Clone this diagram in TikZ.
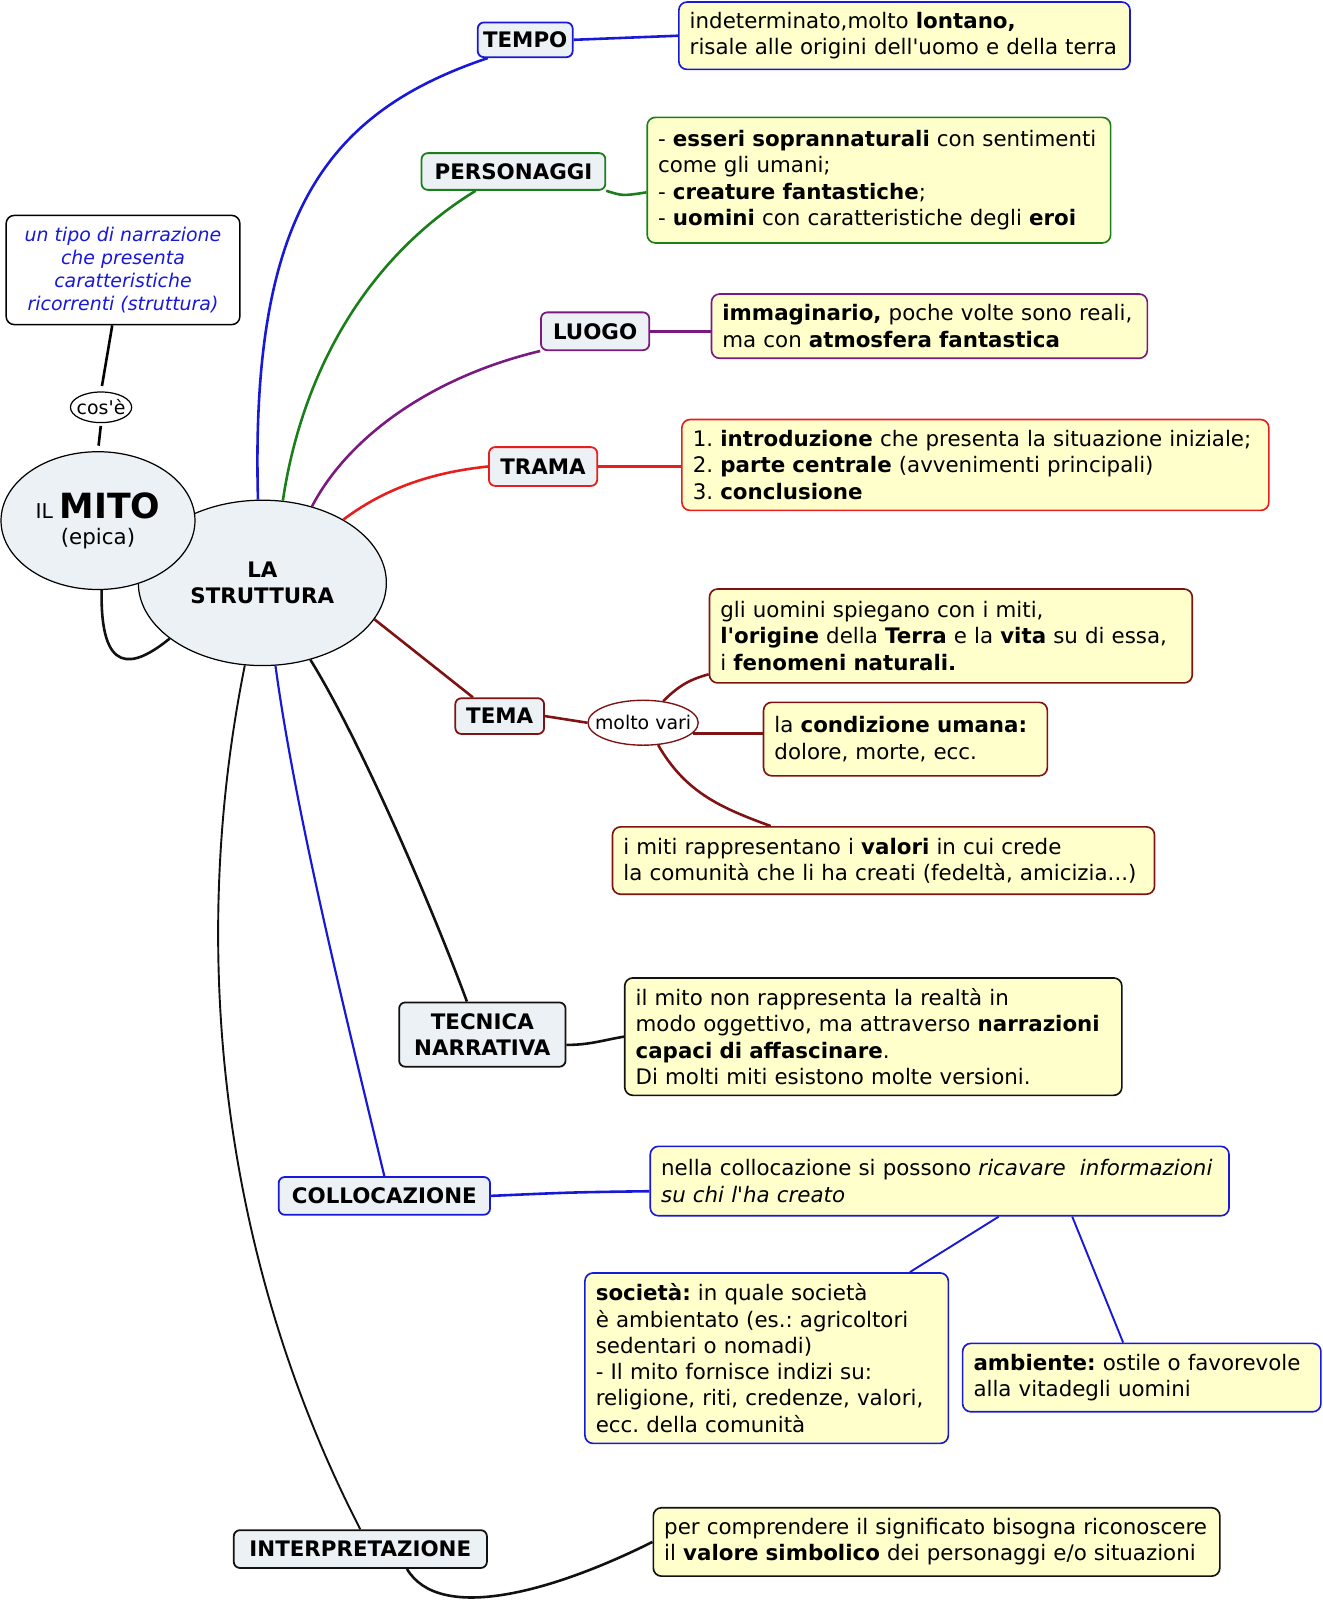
\documentclass[tikz,border=0pt]{standalone}
\usepackage{fontspec}
\setmainfont{DejaVu Sans}[Ligatures=TeXOff]
\usetikzlibrary{shapes.geometric}
\definecolor{celeste}{HTML}{EBF1F4}
\definecolor{giallo}{HTML}{FFFFCC}
\definecolor{blu}{HTML}{1818D8}
\definecolor{verde}{HTML}{1A7F1A}
\definecolor{viola}{HTML}{7A1A80}
\definecolor{rosso}{HTML}{E61E1E}
\definecolor{bordeaux}{HTML}{7F1212}
\definecolor{nero}{HTML}{111111}
\newcommand{\tn}{\fontsize{15.7}{19.3}\selectfont}
\newcommand{\pc}{\fontsize{13.9}{16.9}\selectfont}
\frenchspacing

\begin{document}
\begin{tikzpicture}[x=0.75pt,y=-0.75pt,
  ramo/.style={draw=#1,fill=celeste,rounded corners=4.5pt,line width=1.3pt,
    font=\tn\bfseries,align=center,inner sep=0pt},
  nota/.style={draw=#1,fill=giallo,rounded corners=6pt,line width=1.2pt,
    font=\tn,align=left,inner xsep=8pt,inner ysep=0pt},
  bolla/.style={ellipse,draw,fill=celeste,line width=0.9pt,inner sep=0pt,
    align=center,font=\tn},
  filo/.style={draw=#1,line width=1.9pt}]
\useasboundingbox (0,0) rectangle (1296,1567.4);

% centro
\node[bolla,minimum width=182.25pt,minimum height=121.5pt,font=\tn\bfseries]
  (strut) at (257,571) {LA\\STRUTTURA};
\node[bolla,minimum width=142.5pt,minimum height=101.25pt]
  (mito) at (96,510) {{\fontsize{15}{15}\selectfont IL}
  {\fontsize{25.5}{27}\selectfont\bfseries MITO}\\(epica)};
\node[ellipse,draw,fill=white,line width=0.9pt,inner xsep=-3pt,inner ysep=0pt,
  minimum width=45pt,minimum height=22.5pt,font=\pc]
  (cose) at (99,399) {cos'è};
\node[draw,fill=white,rounded corners=6pt,line width=1.1pt,align=center,
  text=blu,font=\pc\itshape,minimum width=171.75pt,minimum height=80.25pt]
  (tipo) at (120.5,264.5) {un tipo di narrazione\\che presenta\\caratteristiche\\ricorrenti (struttura)};

% rami
\node[ramo=blu,     minimum width=69.75pt, minimum height=25.5pt]  (tempo)   at (514.5,39)    {TEMPO};
\node[ramo=verde,   minimum width=135pt,   minimum height=27pt]    (pers)    at (503,168)     {PERSONAGGI};
\node[ramo=viola,   minimum width=79.5pt,  minimum height=27.75pt] (luogo)   at (583,324.5)   {LUOGO};
\node[ramo=rosso,   minimum width=79.5pt,  minimum height=28.5pt]  (trama)   at (532,457)     {TRAMA};
\node[ramo=bordeaux,minimum width=65.25pt, minimum height=26.25pt] (tema)    at (489.5,701.5) {TEMA};
\node[ramo=nero,    minimum width=122.25pt,minimum height=47.25pt] (tecnica) at (472.5,1013.5){TECNICA\\NARRATIVA};
\node[ramo=blu,     minimum width=155.25pt,minimum height=27.75pt] (colloc)  at (376.5,1171.5){COLLOCAZIONE};
\node[ramo=nero,    minimum width=186pt,   minimum height=27.75pt] (interp)  at (353,1517.5)  {INTERPRETAZIONE};
\node[ellipse,draw=bordeaux,fill=white,line width=1pt,inner xsep=-6.8pt,inner ysep=0pt,
  minimum width=81pt,minimum height=33pt,font=\pc]
  (molto) at (630,708) {molto vari};

% note
\node[nota=blu,text width=315.5pt,minimum height=49.5pt] (t1) at (886,35)
  {indeterminato,molto \textbf{lontano,}\\risale alle origini dell'uomo e della terra};
\node[nota=verde,text width=324.5pt,minimum height=92.25pt] (p1) at (861,176.5)
  {- \textbf{esseri soprannaturali} con sentimenti\\come gli umani;\\- \textbf{creature fantastiche};\\- \textbf{uomini} con caratteristiche degli \textbf{eroi}};
\node[nota=viola,text width=304.25pt,minimum height=47.25pt] (l1) at (910.5,319.5)
  {\textbf{immaginario,} poche volte sono reali,\\ma con \textbf{atmosfera fantastica}};
\node[nota=rosso,text width=415.25pt,minimum height=66.75pt] (tr1) at (955.5,455.5)
  {1. \textbf{introduzione} che presenta la situazione iniziale;\\2. \textbf{parte centrale} (avvenimenti principali)\\3. \textbf{conclusione}};
\node[nota=bordeaux,text width=338.75pt,minimum height=69pt] (te1) at (931.5,623)
  {gli uomini spiegano con i miti,\\\textbf{l'origine} della \textbf{Terra} e la \textbf{vita} su di essa,\\i \textbf{fenomeni naturali.}};
\node[nota=bordeaux,text width=192.5pt,minimum height=54pt] (te2) at (887,724)
  {la \textbf{condizione umana:}\\dolore, morte, ecc.};
\node[nota=bordeaux,text width=382.25pt,minimum height=49.5pt] (te3) at (865.5,843)
  {i miti rappresentano i \textbf{valori} in cui crede\\la comunità che li ha creati (fedeltà, amicizia...)};
\node[nota=nero,text width=349.25pt,minimum height=86.25pt] (tn1) at (855.5,1015.5)
  {il mito non rappresenta la realtà in\\modo oggettivo, ma attraverso \textbf{narrazioni}\\\textbf{capaci di affascinare}.\\Di molti miti esistono molte versioni.};
\node[nota=blu,text width=409.25pt,minimum height=51pt] (c1) at (920.5,1157)
  {nella collocazione si possono \textit{ricavare\ \ informazioni}\\\textit{su chi l'ha creato}};
\node[nota=blu,text width=251pt,minimum height=125.25pt] (c2) at (751,1330.5)
  {\textbf{società:} in quale società\\è ambientato (es.: agricoltori\\sedentari o nomadi)\\- Il mito fornisce indizi su:\\religione, riti, credenze, valori,\\ecc. della comunità};
\node[nota=blu,text width=247.25pt,minimum height=50.25pt] (c3) at (1118.5,1349.5)
  {\textbf{ambiente:} ostile o favorevole\\alla vitadegli uomini};
\node[nota=nero,text width=400.25pt,minimum height=50.25pt] (i1) at (917.5,1510.5)
  {per comprendere il significato bisogna riconoscere\\il \textbf{valore simbolico} dei personaggi e/o situazioni};

% collegamenti
\draw[line width=1.9pt,shorten <=4pt] (cose.north) -- (tipo.-101);
\draw[line width=1.9pt,shorten <=2pt,shorten >=4pt] (cose.south) -- (mito.north);
\draw[filo=nero] (mito.-87) .. controls (98,662) and (130,655) .. (strut.-149);

\draw[filo=blu] (strut.93) .. controls (245,210) and (320,110) .. (tempo.-154);
\draw[filo=blu] (tempo.east) -- (t1.west);
\draw[filo=verde] (strut.76) .. controls (295,370) and (355,255) .. (pers.-153);
\draw[filo=verde] (pers.south east) .. controls (610,192) .. (p1.183);
\draw[filo=viola] (strut.57) .. controls (340,430) and (420,370) .. (luogo.south west);
\draw[filo=viola] (luogo.east) -- (luogo.east -| l1.west);
\draw[filo=rosso] (strut.38) .. controls (375,480) and (420,463) .. (trama.west);
\draw[filo=rosso] (trama.east) -- (trama.east -| tr1.west);
\draw[filo=bordeaux] (strut.-18) -- (tema.145);
\draw[filo=bordeaux] (tema.east) -- (molto.west);
\draw[filo=bordeaux] (molto.47) to[out=45,in=195] (te1.189);
\draw[filo=bordeaux] (molto.-12) -- (molto.-12 -| te2.west);
\draw[filo=bordeaux] (molto.-56) to[out=-60,in=160] (te3.163);
\draw[filo=nero] (strut.-58) .. controls (350,720) and (420,880) .. (tecnica.115);
\draw[filo=nero] (tecnica.-7) to[out=0,in=190] (tn1.west);
\draw[filo=blu,line width=1.6pt] (strut.-81) .. controls (290,800) and (340,1000) .. (colloc.north);
\draw[filo=blu] (colloc.east) .. controls (560,1168) .. (c1.182);
\draw[filo=blu,line width=1.4pt] (c1.-31.5) -- (c2.31);
\draw[filo=blu,line width=1.4pt] (c1.-15) -- (c3.118);
\draw[filo=nero,line width=1.4pt] (strut.-102.6) .. controls (180,950) and (225,1250) .. (interp.north);
\draw[filo=nero] (interp.-23) .. controls (430,1590) and (540,1560) .. (i1.west);
\end{tikzpicture}
\end{document}
